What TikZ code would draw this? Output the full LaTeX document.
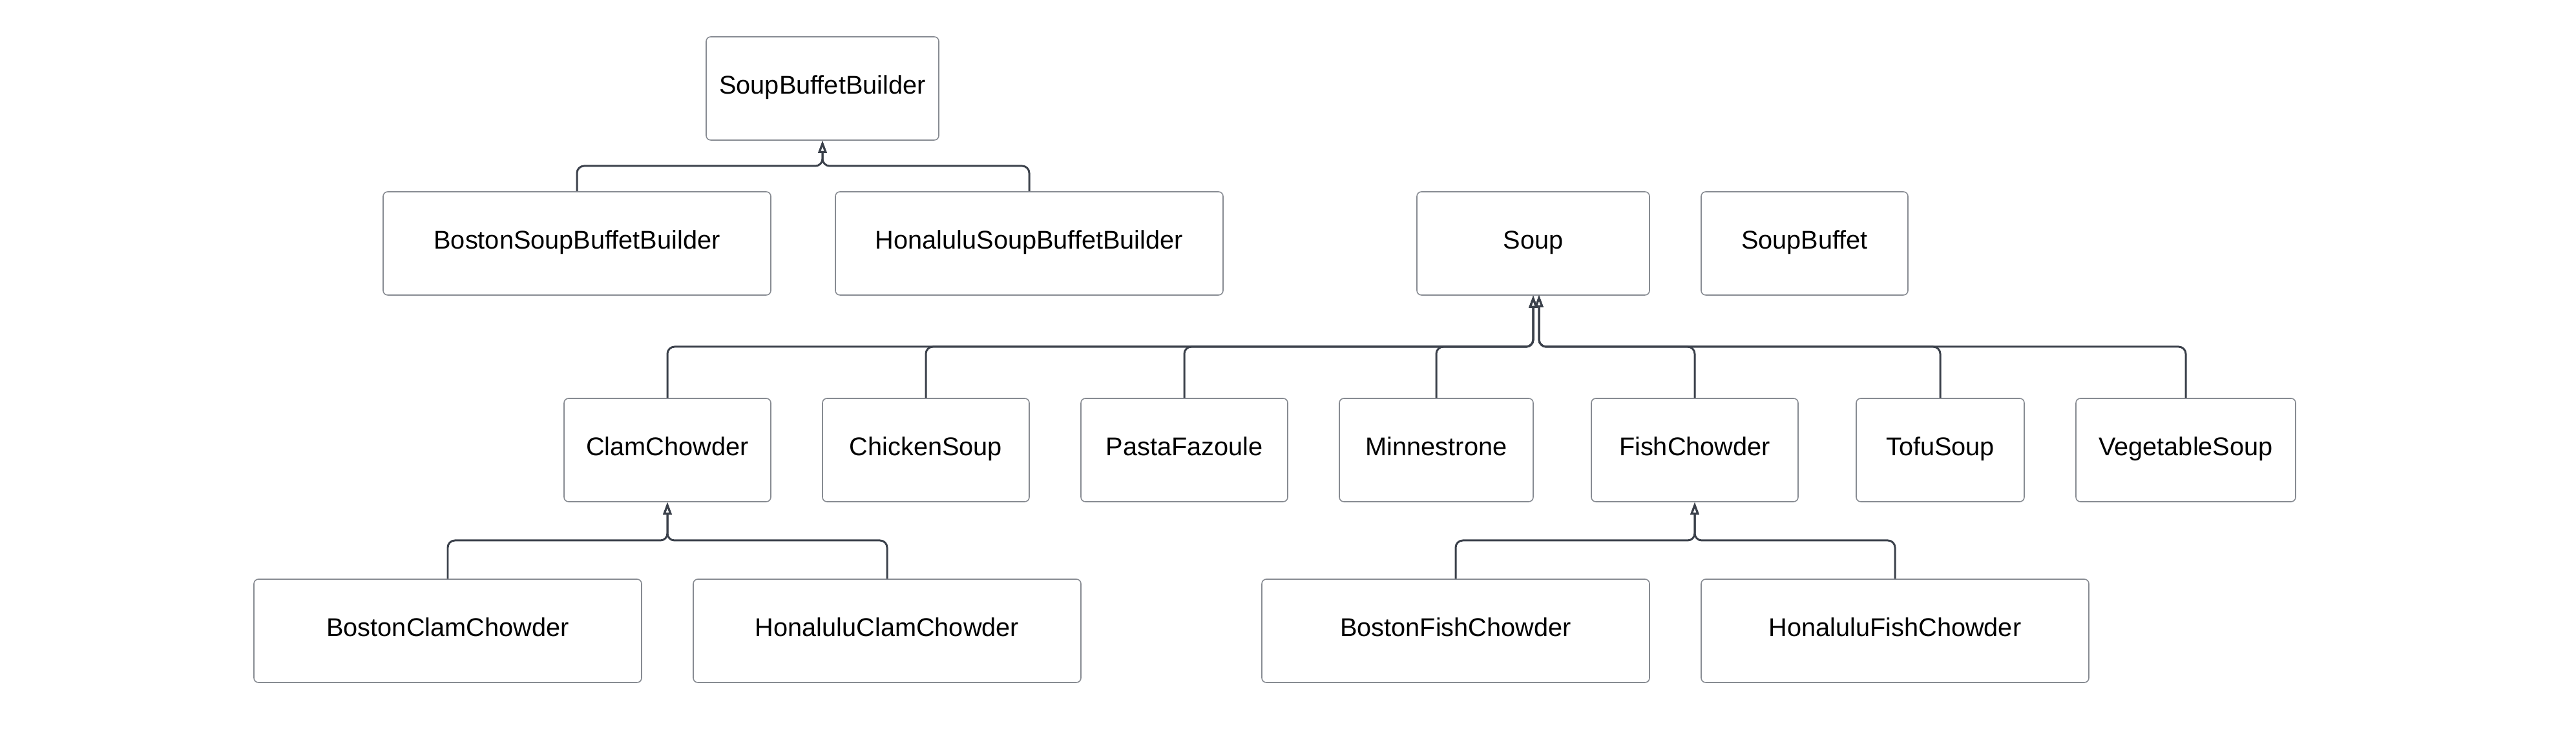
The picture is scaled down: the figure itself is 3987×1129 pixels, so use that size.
\documentclass[tikz,border=0pt]{standalone}
\usepackage{fontspec}
\setmainfont{Liberation Sans}
\usetikzlibrary{arrows.meta}
\definecolor{umlline}{HTML}{3B414B}
\definecolor{umlbox}{HTML}{878B92}
\tikzset{
  cls/.style={draw=umlbox, line width=0.45pt, rounded corners=0.7mm, minimum height=16mm,
    inner sep=0pt, text height=0.72em, text depth=0.21em, font=\fontsize{11.3}{13}\selectfont},
  inh/.style={draw=umlline, line width=0.85pt, rounded corners=1.1mm,
    -{Triangle[open,length=1.9mm,width=1.3mm]}}
}

\begin{document}
\begin{tikzpicture}[x=0.1mm, y=-0.1mm]
\useasboundingbox (0,0) rectangle (3987,1129);
% builders
\node[cls, minimum width=36mm] (sbb) at (1273,137) {SoupBuffetBuilder};
\node[cls, minimum width=60mm] (bsbb) at (893,377) {BostonSoupBuffetBuilder};
\node[cls, minimum width=60mm] (hsbb) at (1593,377) {HonaluluSoupBuffetBuilder};
% soups
\node[cls, minimum width=36mm] (soup) at (2373,377) {Soup};
\node[cls, minimum width=32mm] (buffet) at (2793,377) {SoupBuffet};
\node[cls, minimum width=32mm] (clam) at (1033,697) {ClamChowder};
\node[cls, minimum width=32mm] (chicken) at (1433,697) {ChickenSoup};
\node[cls, minimum width=32mm] (pasta) at (1833,697) {PastaFazoule};
\node[cls, minimum width=30mm] (minne) at (2223,697) {Minnestrone};
\node[cls, minimum width=32mm] (fish) at (2623,697) {FishChowder};
\node[cls, minimum width=26mm] (tofu) at (3003,697) {TofuSoup};
\node[cls, minimum width=34mm] (veg) at (3383,697) {VegetableSoup};
% chowders
\node[cls, minimum width=60mm] (bcc) at (693,977) {BostonClamChowder};
\node[cls, minimum width=60mm] (hcc) at (1373,977) {HonaluluClamChowder};
\node[cls, minimum width=60mm] (bfc) at (2253,977) {BostonFishChowder};
\node[cls, minimum width=60mm] (hfc) at (2933,977) {HonaluluFishChowder};

% bus points
\coordinate (sbbbus) at (1273,257);
\coordinate (soupbusL) at (2373,537);
\coordinate (soupbusR) at (2382,537);
\coordinate (soupR) at (2382,457);
\coordinate (clambus) at (1033,837);
\coordinate (fishbus) at (2623,837);

% inheritance
\foreach \c in {bsbb,hsbb} \draw[inh] (\c.north) |- (sbbbus) -- (sbb.south);
\foreach \c in {clam,chicken,pasta,minne} \draw[inh] (\c.north) |- (soupbusL) -- (soup.south);
\foreach \c in {fish,tofu,veg} \draw[inh] (\c.north) |- (soupbusR) -- (soupR);
\foreach \c in {bcc,hcc} \draw[inh] (\c.north) |- (clambus) -- (clam.south);
\foreach \c in {bfc,hfc} \draw[inh] (\c.north) |- (fishbus) -- (fish.south);
\end{tikzpicture}
\end{document}
